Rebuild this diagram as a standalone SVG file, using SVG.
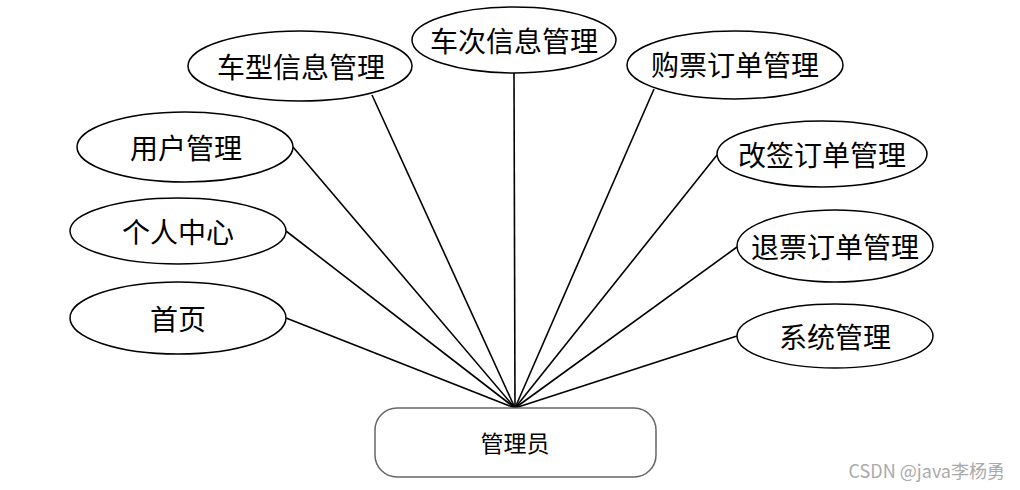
<svg xmlns="http://www.w3.org/2000/svg" width="1020" height="490" viewBox="0 0 1020 490">
<style>
.n ellipse{fill:#fff;stroke:#000;stroke-width:1.5}
.t{font-family:"Noto Sans CJK SC","Noto Sans",sans-serif;font-size:28px;fill:#000;text-anchor:middle;dominant-baseline:central}
.c line{stroke:#000;stroke-width:1.6}
</style>
<rect width="1020" height="490" fill="#fff"/>
<g class="c" id="connectors">
<line x1="515" y1="408" x2="286" y2="318"/>
<line x1="515" y1="408" x2="286" y2="231"/>
<line x1="515" y1="408" x2="293" y2="147"/>
<line x1="515" y1="408" x2="372" y2="95"/>
<line x1="515" y1="408" x2="514" y2="72"/>
<line x1="515" y1="408" x2="654" y2="89"/>
<line x1="515" y1="408" x2="717" y2="155"/>
<line x1="515" y1="408" x2="737" y2="247"/>
<line x1="515" y1="408" x2="737" y2="336"/>
</g>
<g class="n" id="n-shouye"><ellipse cx="178" cy="318" rx="108" ry="36"/><text class="t" x="178" y="318">首页</text></g>
<g class="n" id="n-geren"><ellipse cx="178" cy="231" rx="108" ry="33"/><text class="t" x="178" y="231">个人中心</text></g>
<g class="n" id="n-yonghu"><ellipse cx="185" cy="147" rx="108" ry="35"/><text class="t" x="186" y="147">用户管理</text></g>
<g class="n" id="n-chexing"><ellipse cx="300" cy="66" rx="112" ry="35"/><text class="t" x="301" y="66">车型信息管理</text></g>
<g class="n" id="n-checi"><ellipse cx="514" cy="40" rx="102" ry="33"/><text class="t" x="514" y="40">车次信息管理</text></g>
<g class="n" id="n-goupiao"><ellipse cx="735" cy="65" rx="108" ry="34"/><text class="t" x="735" y="64">购票订单管理</text></g>
<g class="n" id="n-gaiqian"><ellipse cx="822" cy="154" rx="105" ry="33"/><text class="t" x="822" y="154">改签订单管理</text></g>
<g class="n" id="n-tuipiao"><ellipse cx="835" cy="246" rx="98" ry="36"/><text class="t" x="835" y="246">退票订单管理</text></g>
<g class="n" id="n-xitong"><ellipse cx="835" cy="336" rx="98" ry="32"/><text class="t" x="835" y="336">系统管理</text></g>
<g id="n-admin"><rect x="375" y="408" width="281" height="69" rx="22" ry="22" fill="#fff" stroke="#666" stroke-width="1.5"/><text class="t" x="515" y="442" style="font-size:23px">管理员</text></g>
<text x="1005" y="470" style="font-family:'Noto Sans CJK SC','Noto Sans',sans-serif;font-size:18px;fill:#aaa;text-anchor:end;dominant-baseline:central">CSDN @java李杨勇</text>
</svg>
